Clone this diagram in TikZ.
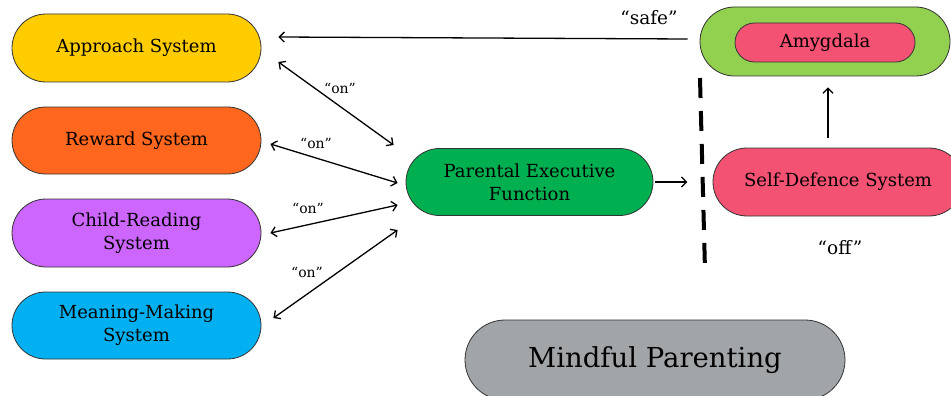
\documentclass[tikz,border=0pt]{standalone}
\usepackage{fontspec}
\setmainfont{DejaVu Serif}
\usetikzlibrary{arrows.meta,calc}
\definecolor{cyel}{HTML}{FFCC00}
\definecolor{corg}{HTML}{FF661E}
\definecolor{cpur}{HTML}{CC66FF}
\definecolor{ccya}{HTML}{00B0F0}
\definecolor{cgrn}{HTML}{00B050}
\definecolor{clgr}{HTML}{92D050}
\definecolor{cpnk}{HTML}{F45273}
\definecolor{cgry}{HTML}{A2A5A8}
\definecolor{cedge}{HTML}{333333}
\tikzset{
  pill/.style={draw=cedge, line width=0.8pt, rectangle, align=center, font=\fontsize{18}{23}\selectfont, text=black},
  biarrow/.style={draw=black, line width=1.3pt, {Straight Barb[length=5pt,width=10pt]}-{Straight Barb[length=5pt,width=10pt]}},
  onearrow/.style={draw=black, line width=1.3pt, -{Straight Barb[length=5pt,width=10pt]}},
  lbl/.style={font=\fontsize{14}{16}\selectfont, text=black},
  biglbl/.style={font=\fontsize{18.5}{21}\selectfont, text=black}
}
\begin{document}
\begin{tikzpicture}[x=1pt,y=-1pt]
\useasboundingbox (0,0) rectangle (951,396);
\fill[white] (0,0) rectangle (951,396);
\node[pill, fill=cyel, minimum width=249pt, minimum height=68pt, rounded corners=34pt] (app) at (136.5,48) {Approach System};
\node[pill, fill=corg, minimum width=249pt, minimum height=67pt, rounded corners=33.5pt] (rew) at (136.5,140.5) {Reward System};
\node[pill, fill=cpur, minimum width=249pt, minimum height=68pt, rounded corners=34pt] (chi) at (136.5,233) {Child-Reading\\System};
\node[pill, fill=ccya, minimum width=249pt, minimum height=67pt, rounded corners=33.5pt] (mea) at (136.5,325.5) {Meaning-Making\\System};
\node[pill, fill=cgrn, minimum width=247pt, minimum height=67pt, rounded corners=33.5pt] (pef) at (529.5,182) {Parental Executive\\Function};
\node[pill, fill=clgr, minimum width=250pt, minimum height=69pt, rounded corners=34.5pt] (amo) at (825,41.5) {};
\node[pill, fill=cpnk, minimum width=180pt, minimum height=39pt, rounded corners=19.5pt] (amy) at (825,42.5) {Amygdala};
\node[pill, fill=cpnk, minimum width=250pt, minimum height=68pt, rounded corners=34pt] (sd) at (838,182) {Self-Defence System};
\node[pill, fill=cgry, minimum width=380pt, minimum height=80pt, rounded corners=40pt, font=\fontsize{27.5}{32}\selectfont] (mp) at (655,360) {Mindful Parenting};

\draw[onearrow] ($(amo.west)+(-12,-2.5)$) -- ($(app.east)+(17,-11)$);
\node[biglbl] (safe) at (649,18) {``safe''};
\draw[biarrow] ($(app.east)+(17,14)$) -- ($(pef.west)+(-12,-37)$);
\node[lbl] (on1) at (340,88) {``on''};
\draw[biarrow] ($(rew.east)+(9,3.5)$) -- ($(pef.west)+(-8,1)$);
\node[lbl] (on2) at (316,143) {``on''};
\draw[biarrow] ($(chi.east)+(9,0)$) -- ($(pef.west)+(-8,23)$);
\node[lbl] (on3) at (308,208) {``on''};
\draw[biarrow] ($(mea.east)+(12,-7.5)$) -- ($(pef.west)+(-8,48)$);
\node[lbl] (on4) at (307,272) {``on''};
\draw[onearrow] ($(pef.east)+(2,0)$) -- ($(pef.east)+(34,0)$);
\draw[onearrow] ($(sd.north)+(-10,-10)$) -- ($(amo.south)+(3,11)$);
\coordinate (dtop) at (700,78);
\coordinate (dbot) at (705,270);
\draw[line width=4pt, dash pattern=on 20pt off 13pt] (dtop) -- (dbot);
\node[biglbl] (off) at (840,248) {``off''};
\end{tikzpicture}
\end{document}
